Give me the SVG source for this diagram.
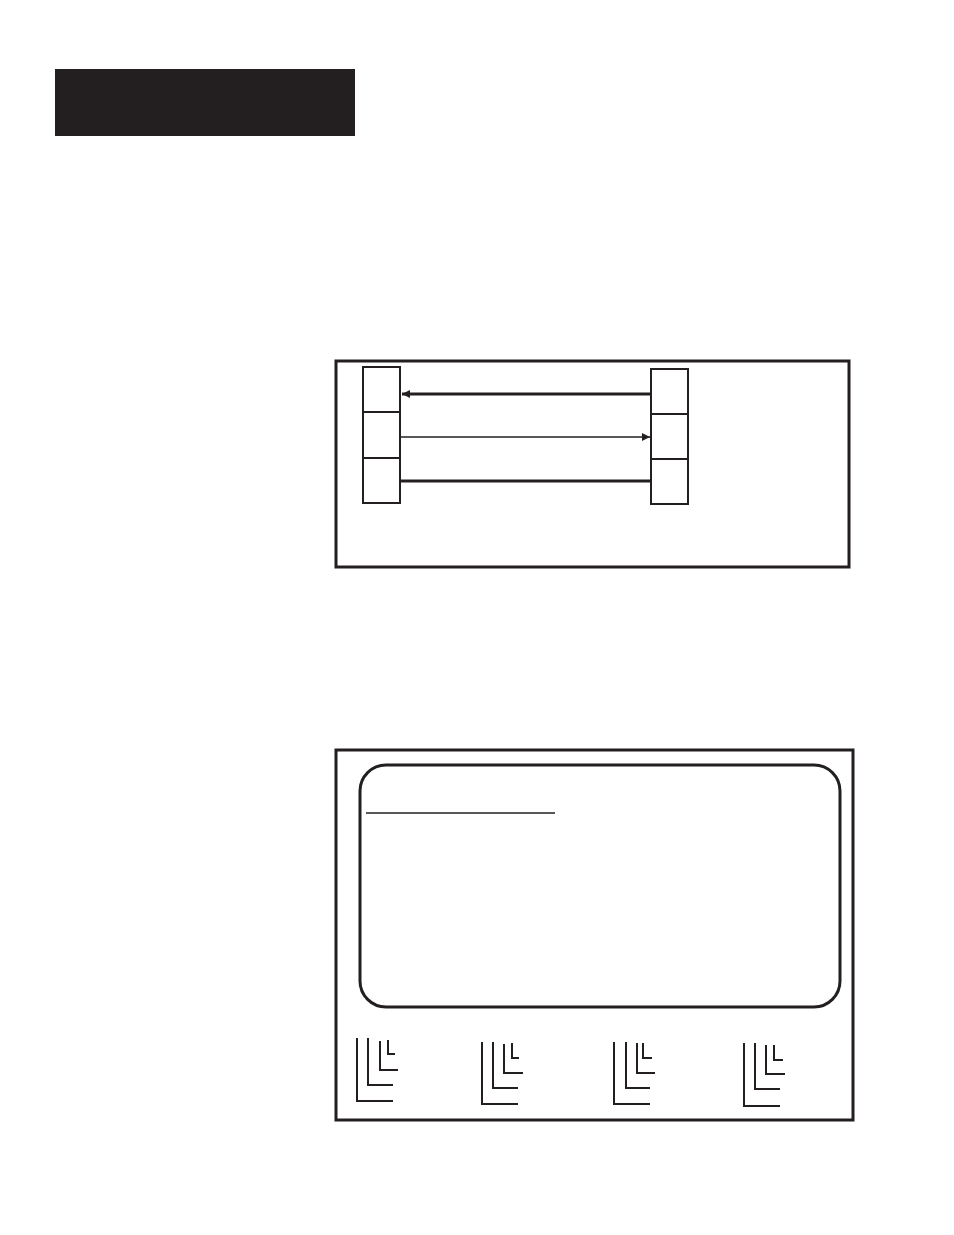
<svg xmlns="http://www.w3.org/2000/svg" width="954" height="1235" viewBox="0 0 954 1235">
<style>
.frame{fill:none;stroke:#231f20;stroke-width:3}
.cell{fill:#fff;stroke:#231f20;stroke-width:2}
.thick{fill:none;stroke:#231f20;stroke-width:3}
.thin{fill:none;stroke:#231f20;stroke-width:1.6}
.brk{fill:none;stroke:#231f20;stroke-width:2}
</style>
<defs>
<marker id="ah" viewBox="0 0 10 10" refX="10" refY="5" markerWidth="10" markerHeight="8" markerUnits="userSpaceOnUse" orient="auto">
<path d="M0,0 L10,5 L0,10 z" fill="#231f20"/>
</marker>
</defs>
<g id="header"><rect x="55" y="69" width="300" height="67" fill="#231f20"/></g>

<g id="frame1"><rect class="frame" x="336" y="361" width="513" height="206"/></g>
<g id="left-stack">
<rect class="cell" x="363" y="367" width="37" height="45"/>
<rect class="cell" x="363" y="412" width="37" height="46"/>
<rect class="cell" x="363" y="458" width="37" height="45"/>
</g>
<g id="right-stack">
<rect class="cell" x="651" y="369" width="37" height="45"/>
<rect class="cell" x="651" y="414" width="37" height="45"/>
<rect class="cell" x="651" y="459" width="37" height="45"/>
</g>
<g id="connectors">
<line class="thick" x1="651" y1="394" x2="402" y2="394" marker-end="url(#ah)"/>
<line class="thin" x1="400" y1="437" x2="650" y2="437" marker-end="url(#ah)"/>
<line class="thick" x1="400" y1="481" x2="651" y2="481"/>
</g>

<g id="frame2"><rect class="frame" x="336" y="750" width="517" height="370"/></g>
<g id="screen">
<rect class="frame" x="360" y="765" width="480" height="242" rx="26" ry="26"/>
<line x1="366" y1="813" x2="555" y2="813" stroke="#231f20" stroke-width="1.5"/>
</g>
<g id="keys1">
<path class="brk" d="M357,1038 V1101 H393 M368,1038 V1085 H393 M380,1041 V1070 H398 M388,1040 V1054 H395"/>
</g>
<g id="keys2">
<path class="brk" d="M482,1042 V1104 H518 M493,1042 V1088 H518 M504,1044 V1073 H523 M512,1043 V1058 H519"/>
</g>
<g id="keys3">
<path class="brk" d="M614,1042 V1104 H650 M626,1042 V1088 H650 M637,1043 V1073 H655 M643,1043 V1058 H652"/>
</g>
<g id="keys4">
<path class="brk" d="M744,1043 V1106 H780 M755,1043 V1089 H780 M766,1045 V1074 H785 M774,1045 V1060 H783"/>
</g>
</svg>
